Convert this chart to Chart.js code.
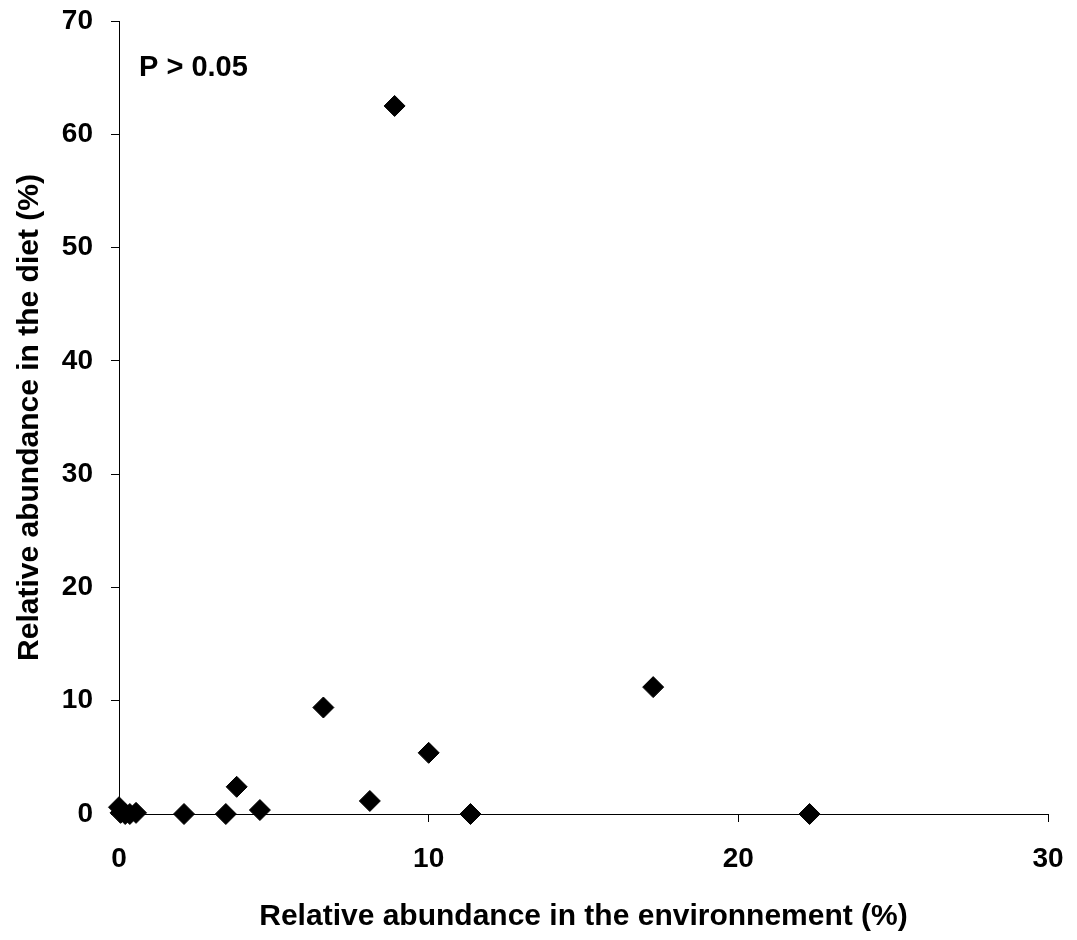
<!DOCTYPE html>
<html>
<head>
<meta charset="utf-8">
<script src="https://cdn.jsdelivr.net/npm/chart.js@4"></script>
<style>
  html, body { margin: 0; padding: 0; background: #fff; }
  #wrap { width: 1077px; height: 940px; }
</style>
</head>
<body>
<div id="wrap"><canvas id="scatter"></canvas></div>
<script>
// Données
const envAbundance  = [0, 0.05, 0.2, 0.35, 0.55, 2.1, 3.45, 3.8, 4.55, 6.6, 8.1, 8.9, 10.0, 11.35, 17.25, 22.3];
const dietAbundance = [0.6, 0.1, 0, 0, 0.1, 0, 0, 2.4, 0.35, 9.4, 1.15, 62.5, 5.4, 0, 11.2, 0];
const xTicks = [0, 10, 20, 30];
const yTicks = [0, 10, 20, 30, 40, 50, 60, 70];
const statLabel = 'P > 0.05';

const points = envAbundance.map((x, i) => ({ x, y: dietAbundance[i] }));

const FONT = 'Liberation Sans, Arial, sans-serif';

// Texte "P > 0.05"
const statText = {
  id: 'statText',
  afterDraw(chart) {
    const { ctx, chartArea } = chart;
    ctx.save();
    ctx.font = `bold 29px ${FONT}`;
    ctx.fillStyle = '#000';
    ctx.textBaseline = 'alphabetic';
    ctx.fillText(statLabel, chartArea.left + 20, chartArea.top + 55);
    ctx.restore();
  }
};

new Chart(document.getElementById('scatter'), {
  type: 'scatter',
  data: {
    datasets: [{
      data: points,
      pointStyle: 'rectRot',
      pointRadius: 10.5,
      pointHoverRadius: 10.5,
      backgroundColor: '#000',
      borderColor: '#000',
      borderWidth: 1,
      clip: false
    }]
  },
  options: {
    responsive: true,
    maintainAspectRatio: false,
    animation: false,
    layout: { padding: { top: 21, right: 29, left: 0, bottom: 0 } },
    plugins: { legend: { display: false }, tooltip: { enabled: false } },
    scales: {
      x: {
        type: 'linear',
        min: 0, max: 30,
        afterBuildTicks: s => { s.ticks = xTicks.map(v => ({ value: v })); },
        afterFit: s => { s.height = 126; s.paddingRight = 0; s.paddingLeft = 0; },
        grid: { display: true, drawOnChartArea: false, drawTicks: true, tickLength: 8, color: '#000' },
        border: { color: '#000', width: 1 },
        ticks: { color: '#000', padding: 20, font: { family: FONT, size: 28, weight: 'bold' } },
        title: { display: true, text: 'Relative abundance in the environnement (%)', color: '#000', padding: { top: 14, bottom: 5 }, font: { family: FONT, size: 30, weight: 'bold' } }
      },
      y: {
        type: 'linear',
        min: 0, max: 70,
        afterBuildTicks: s => { s.ticks = yTicks.map(v => ({ value: v })); },
        afterFit: s => { s.width = 119; s.paddingTop = 0; s.paddingBottom = 0; },
        grid: { display: true, drawOnChartArea: false, drawTicks: true, tickLength: 8, color: '#000' },
        border: { color: '#000', width: 1 },
        ticks: { color: '#000', padding: 18, font: { family: FONT, size: 28, weight: 'bold' } },
        title: { display: true, text: 'Relative abundance in the diet (%)', color: '#000', padding: { top: 12, bottom: 8 }, font: { family: FONT, size: 30, weight: 'bold' } }
      }
    }
  },
  plugins: [statText]
});
</script>
</body>
</html>
